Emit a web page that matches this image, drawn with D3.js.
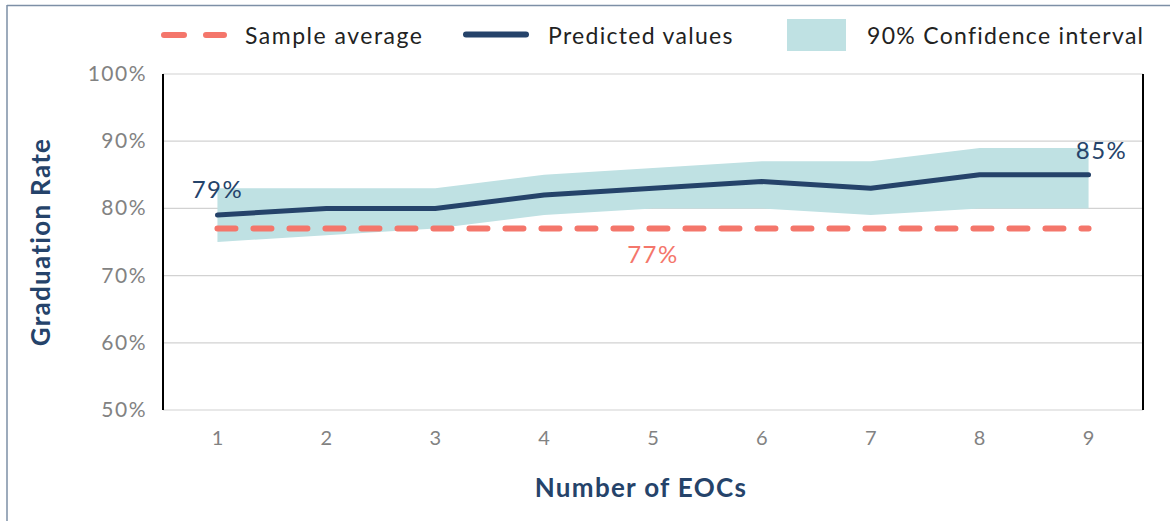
<!DOCTYPE html>
<head>
    <meta charset="utf-8">
    <title>Graduation rate by number of EOCs</title>
    <style>
        body { margin: 0; background: #fff; }
        svg { display: block; font-family: Lato, "Open Sans", sans-serif; }
    </style>
</head>
<body>
<svg width="1170" height="521"></svg>

<script src="https://d3js.org/d3.v7.min.js"></script>
<script>

    // data
    var eocs = [1, 2, 3, 4, 5, 6, 7, 8, 9];
    var predicted = [79, 80, 80, 82, 83, 84, 83, 85, 85];
    var ciUpper = [83, 83, 83, 85, 86, 87, 87, 89, 89];
    var ciLower = [75, 76, 77, 79, 80, 80, 79, 80, 80];
    var sampleAverage = 77;
    var yTicks = [50, 60, 70, 80, 90, 100];

    var navy = "#25436a",
        salmon = "#f4766b",
        teal = "#bfe1e3";

    var svg = d3.select("svg");

    // plot box
    var plotLeft = 163, plotRight = 1143, plotTop = 74, plotBottom = 410;

    var x = d3.scalePoint().domain(eocs).range([plotLeft, plotRight]).padding(0.5);
    var y = d3.scaleLinear().domain([50, 100]).range([plotBottom, plotTop]);

    // outer frame (top and left edges only)
    svg.append("line").attr("x1", 7).attr("x2", 1170).attr("y1", 5.5).attr("y2", 5.5)
        .attr("stroke", "#7d8fa6").attr("stroke-width", 1.5);
    svg.append("line").attr("x1", 7).attr("x2", 7).attr("y1", 5).attr("y2", 521)
        .attr("stroke", "#7d8fa6").attr("stroke-width", 1.5);

    // gridlines
    svg.append("g").selectAll("line").data(yTicks).enter().append("line")
        .attr("x1", plotLeft).attr("x2", plotRight)
        .attr("y1", d => y(d)).attr("y2", d => y(d))
        .attr("stroke", "#d2d2d2").attr("stroke-width", 1.2);

    // y tick labels
    svg.append("g").selectAll("text").data(yTicks).enter().append("text")
        .attr("x", 147).attr("y", d => y(d) + 7)
        .attr("text-anchor", "end")
        .attr("fill", "#828282").attr("font-size", 21).attr("letter-spacing", 1.5)
        .text(d => d + "%");

    // x tick labels
    svg.append("g").selectAll("text").data(eocs).enter().append("text")
        .attr("x", d => x(d)).attr("y", 445)
        .attr("text-anchor", "middle")
        .attr("fill", "#828282").attr("font-size", 20)
        .text(d => d);

    // confidence band
    var ci = eocs.map((d, i) => ({ x: d, lo: ciLower[i], hi: ciUpper[i] }));
    svg.append("path").datum(ci)
        .attr("fill", teal)
        .attr("d", d3.area().x(d => x(d.x)).y0(d => y(d.lo)).y1(d => y(d.hi)));

    // sample average
    svg.append("line")
        .attr("x1", x(eocs[0])).attr("x2", x(eocs[eocs.length - 1]))
        .attr("y1", y(sampleAverage)).attr("y2", y(sampleAverage))
        .attr("stroke", salmon).attr("stroke-width", 6)
        .attr("stroke-linecap", "round")
        .attr("stroke-dasharray", "18 18");

    // predicted line
    var pts = eocs.map((d, i) => ({ x: d, v: predicted[i] }));
    svg.append("path").datum(pts)
        .attr("fill", "none").attr("stroke", navy).attr("stroke-width", 5)
        .attr("stroke-linecap", "round").attr("stroke-linejoin", "round")
        .attr("d", d3.line().x(d => x(d.x)).y(d => y(d.v)));

    // axis lines left and right
    svg.append("line").attr("x1", plotLeft).attr("x2", plotLeft).attr("y1", plotTop).attr("y2", plotBottom)
        .attr("stroke", "#000").attr("stroke-width", 2);
    svg.append("line").attr("x1", plotRight).attr("x2", plotRight).attr("y1", plotTop).attr("y2", plotBottom)
        .attr("stroke", "#000").attr("stroke-width", 2);

    // value labels
    svg.append("text").attr("x", x(1)).attr("y", y(predicted[0]) - 17)
        .attr("text-anchor", "middle").attr("fill", navy).attr("font-size", 24).attr("letter-spacing", 1.5)
        .text(predicted[0] + "%");
    svg.append("text").attr("x", x(9) + 13).attr("y", y(predicted[8]) - 16)
        .attr("text-anchor", "middle").attr("fill", navy).attr("font-size", 24).attr("letter-spacing", 1.5)
        .text(predicted[8] + "%");
    svg.append("text").attr("x", x(5)).attr("y", y(sampleAverage) + 34)
        .attr("text-anchor", "middle").attr("fill", salmon).attr("font-size", 24).attr("letter-spacing", 1.5)
        .text(sampleAverage + "%");

    // axis titles
    svg.append("text").attr("x", 641).attr("y", 497)
        .attr("text-anchor", "middle").attr("fill", navy)
        .attr("font-size", 26).attr("font-weight", "bold").attr("letter-spacing", 1.3)
        .text("Number of EOCs");
    svg.append("text")
        .attr("transform", "translate(50,242) rotate(-90)")
        .attr("text-anchor", "middle").attr("fill", navy)
        .attr("font-size", 26).attr("font-weight", "bold").attr("letter-spacing", 1.3)
        .text("Graduation Rate");

    // legend
    var legend = svg.append("g");
    legend.append("line").attr("x1", 164).attr("x2", 224).attr("y1", 35).attr("y2", 35)
        .attr("stroke", salmon).attr("stroke-width", 6).attr("stroke-linecap", "round")
        .attr("stroke-dasharray", "20 22");
    legend.append("text").attr("x", 245).attr("y", 44)
        .attr("fill", "#222").attr("font-size", 23).attr("letter-spacing", 1.5).text("Sample average");
    legend.append("line").attr("x1", 466).attr("x2", 526).attr("y1", 34.5).attr("y2", 34.5)
        .attr("stroke", navy).attr("stroke-width", 6).attr("stroke-linecap", "round");
    legend.append("text").attr("x", 548).attr("y", 44)
        .attr("fill", "#222").attr("font-size", 23).attr("letter-spacing", 1.3).text("Predicted values");
    legend.append("rect").attr("x", 787).attr("y", 19).attr("width", 59).attr("height", 32)
        .attr("fill", teal);
    legend.append("text").attr("x", 867).attr("y", 44)
        .attr("fill", "#222").attr("font-size", 23).attr("letter-spacing", 1.3).text("90% Confidence interval");

</script>
</body>
